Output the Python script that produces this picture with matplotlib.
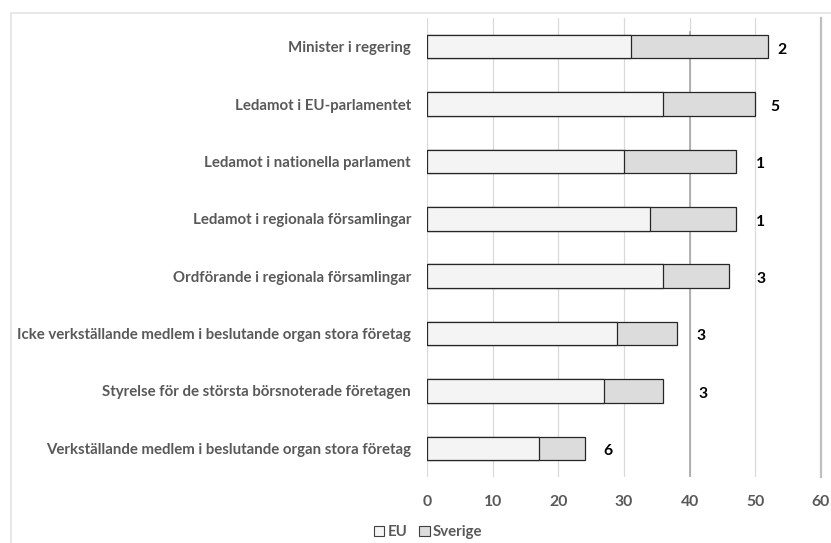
import numpy as np
import matplotlib.pyplot as plt
from matplotlib.patches import Rectangle, Patch

plt.rcParams['font.family'] = ['Lato', 'DejaVu Sans']

# data
categories = ["Minister i regering",
              "Ledamot i EU-parlamentet",
              "Ledamot i nationella parlament",
              "Ledamot i regionala församlingar",
              "Ordförande i regionala församlingar",
              "Icke verkställande medlem i beslutande organ stora företag",
              "Styrelse för de största börsnoterade företagen",
              "Verkställande medlem i beslutande organ stora företag"]
eu = [31, 36, 30, 34, 36, 29, 27, 17]
sverige = [52, 50, 47, 47, 46, 38, 36, 24]
rank_labels = ["2", "5", "1", "1", "3", "3", "3", "6"]
rank_x = [54.1, 53.0, 50.8, 50.8, 50.9, 41.8, 42.0, 27.6]
xticks = [0, 10, 20, 30, 40, 50, 60]

text_grey = "#595959"
fs = 10.8

fig = plt.figure(figsize=(8.31, 5.43), dpi=100)
ax = fig.add_axes([427/831, 1 - 477/543, (821 - 427)/831, (477 - 18)/543])

y = np.arange(len(categories))
# bars overlap completely: Sverige behind, EU in front
ax.barh(y, sverige, height=0.41, color="#dcdcdc", edgecolor="#262626", linewidth=0.9, zorder=3, label="Sverige")
ax.barh(y, eu, height=0.41, color="#f4f4f4", edgecolor="#262626", linewidth=0.9, zorder=4, label="EU")

for yi, lab, xpos in zip(y, rank_labels, rank_x):
    ax.text(xpos, yi + 0.05, lab, ha="center", va="center", fontsize=fs + 0.5, fontweight="bold",
            color="black", zorder=5)

ax.set_xlim(0, 60)
ax.set_ylim(len(categories) - 0.5, -0.5)
ax.set_xticks(xticks)
ax.set_yticks(y)
ax.set_yticklabels(categories)
ax.tick_params(axis="y", length=0, pad=11.5, labelsize=fs, labelcolor=text_grey)
ax.tick_params(axis="x", length=0, pad=13, labelsize=fs + 0.5, labelcolor=text_grey)
for lab in ax.get_xticklabels() + ax.get_yticklabels():
    lab.set_fontweight("bold")

ax.grid(axis="x", color="#d9d9d9", linewidth=0.9, zorder=0)
ax.set_axisbelow(True)
for side in ["top", "bottom", "left"]:
    ax.spines[side].set_visible(False)
ax.spines["right"].set_color("#bfbfbf")
ax.spines["right"].set_linewidth(1.6)

# reference line at 40
ax.axvline(40, ymin=0, ymax=(477 - 32)/(477 - 18), color="#a6a6a6", linewidth=1.2, zorder=2)

handles = [Patch(facecolor="#f4f4f4", edgecolor="#404040", linewidth=0.8, label="EU"),
           Patch(facecolor="#dcdcdc", edgecolor="#404040", linewidth=0.8, label="Sverige")]
leg = fig.legend(handles=handles, loc="center", bbox_to_anchor=(428/831, 1 - 532/543), ncol=2,
                 frameon=False, handlelength=0.7, handleheight=0.7, handletextpad=0.2,
                 columnspacing=0.8, prop={"size": fs, "weight": "bold"})
for t in leg.get_texts():
    t.set_color(text_grey)

# light chart frame
fig.add_artist(Rectangle((11/831, -0.1), 1.2, 1 - 13/543 + 0.1, transform=fig.transFigure,
                         fill=False, edgecolor="#e3e3e3", linewidth=1.2))

fig.savefig("out.png", dpi=100)
